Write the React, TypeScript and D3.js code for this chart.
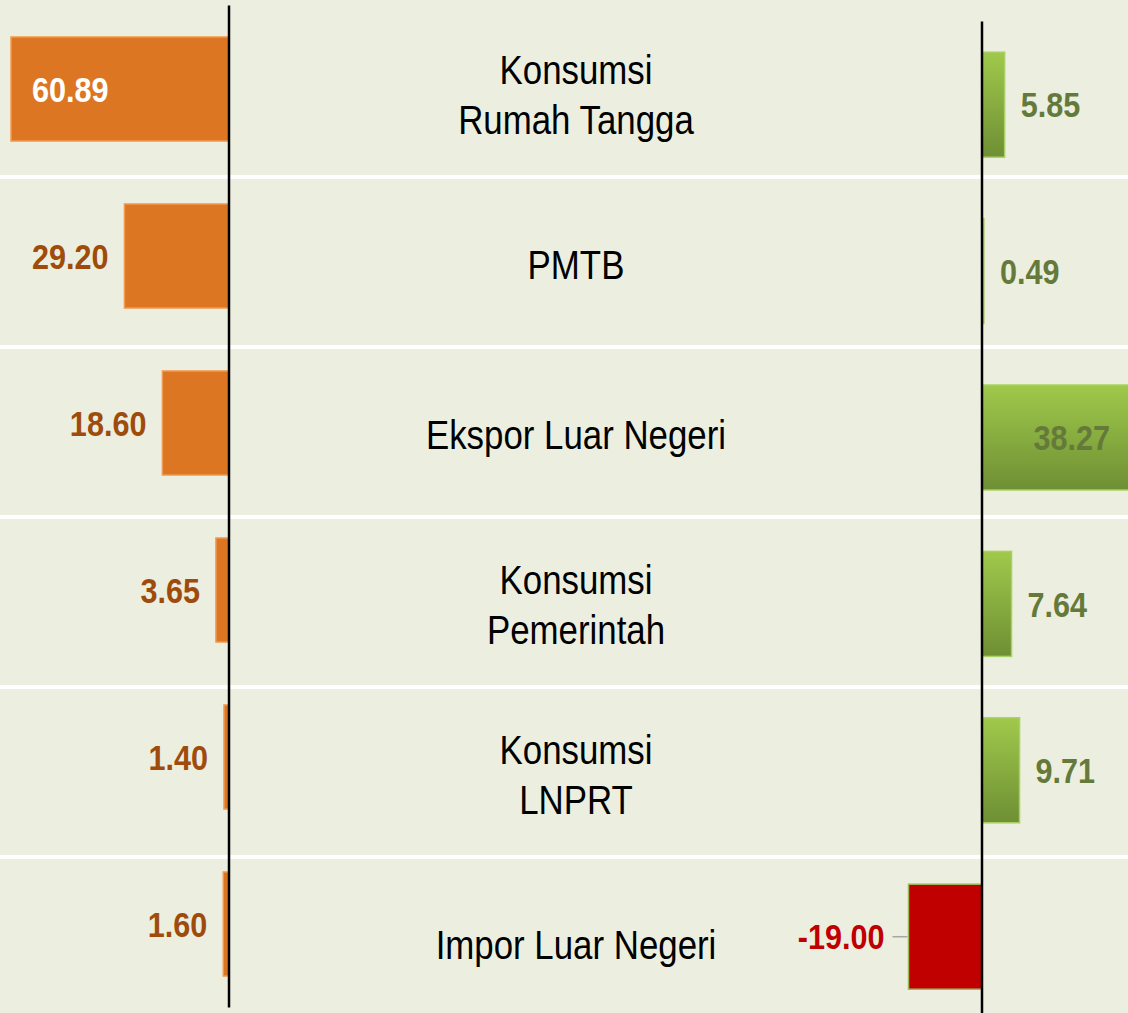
import React from "react";
import * as d3 from "d3";

const categories: string[][] = [
  ["Konsumsi", "Rumah Tangga"],
  ["PMTB"],
  ["Ekspor Luar Negeri"],
  ["Konsumsi", "Pemerintah"],
  ["Konsumsi", "LNPRT"],
  ["Impor Luar Negeri"],
];
const keys = ["rt", "pmtb", "ekspor", "pem", "lnprt", "impor"];
const leftValues = [60.89, 29.2, 18.6, 3.65, 1.4, 1.6];
const rightValues = [5.85, 0.49, 38.27, 7.64, 9.71, -19.0];

const W = 1128;
const H = 1013;
const FONT = "'Liberation Sans', Arial, sans-serif";
const NARROW = 0.85;

const locale = d3.formatLocale({
  decimal: ".",
  thousands: ",",
  grouping: [3],
  currency: ["", ""],
  minus: "-",
});
const fmt = locale.format(".2f");

function NText(props: {
  x: number;
  y: number;
  anchor: "start" | "middle" | "end";
  size: number;
  weight?: string;
  fill: string;
  children: React.ReactNode;
}) {
  return (
    <text
      transform={`translate(${props.x},${props.y}) scale(${NARROW},1)`}
      dy="0.35em"
      textAnchor={props.anchor}
      fontSize={props.size}
      fontWeight={props.weight || "normal"}
      fill={props.fill}
    >
      {props.children}
    </text>
  );
}

export default function App() {
  const leftX0 = 229;
  const rightX0 = 982;

  const xLeft = d3.scaleLinear().domain([0, 60.89]).range([leftX0, 11]);
  const xRight = d3.scaleLinear().domain([0, 19]).range([rightX0, rightX0 + 73.5]);

  const yRow = d3.scaleBand<string>().domain(keys).range([7, 7 + 170 * 6]).padding(0);
  const yLeft = d3
    .scaleBand<string>()
    .domain(keys)
    .range([5.5, 5.5 + 167 * 6])
    .paddingInner(0.377)
    .paddingOuter(0.1885);
  const yRight = d3
    .scaleBand<string>()
    .domain(keys)
    .range([21.5, 21.5 + 166.4 * 6])
    .paddingInner(0.369)
    .paddingOuter(0.1845);

  return (
    <svg
      width={W}
      height={H}
      style={{ position: "absolute", left: 0, top: 0, display: "block" }}
      fontFamily={FONT}
    >
      <defs>
        <linearGradient id="greenGrad" x1="0" y1="0" x2="0" y2="1">
          <stop offset="0" stopColor="#A0C94B" />
          <stop offset="1" stopColor="#6E8F34" />
        </linearGradient>
      </defs>
      <rect x={0} y={0} width={W} height={H} fill="#ECEFE0" />

      {/* row separators */}
      {keys.slice(1).map((k) => (
        <rect key={"sep" + k} x={0} y={(yRow(k) as number) - 2} width={W} height={4} fill="#FFFFFF" />
      ))}

      {/* left bars */}
      {keys.map((k, i) => {
        const v = leftValues[i];
        const y = yLeft(k) as number;
        const bw = yLeft.bandwidth();
        const x = xLeft(v);
        const inside = i === 0;
        return (
          <g key={"l" + k}>
            <rect
              x={x}
              y={y}
              width={leftX0 - x}
              height={bw}
              fill="#DC7622"
              stroke="#F29A4F"
              strokeWidth={1.5}
            />
            <NText
              x={inside ? x + 21 : x - 16}
              y={y + bw / 2}
              anchor={inside ? "start" : "end"}
              weight="bold"
              size={36}
              fill={inside ? "#FFFFFF" : "#9E4B0B"}
            >
              {fmt(v)}
            </NText>
          </g>
        );
      })}

      {/* right bars */}
      {keys.map((k, i) => {
        const v = rightValues[i];
        const y = yRight(k) as number;
        const bw = yRight.bandwidth();
        const cy = y + bw / 2;
        if (v < 0) {
          const x = rightX0 - (xRight(-v) - rightX0);
          return (
            <g key={"r" + k}>
              <rect
                x={x}
                y={y}
                width={rightX0 - x}
                height={bw}
                fill="#C00000"
                stroke="#9BBB59"
                strokeWidth={1.5}
              />
              <line x1={x - 16} x2={x - 1} y1={cy} y2={cy} stroke="#A6A6A6" strokeWidth={1.5} />
              <NText x={x - 24} y={cy} anchor="end" weight="bold" size={36} fill="#C00000">
                {fmt(v)}
              </NText>
            </g>
          );
        }
        const x2 = xRight(v);
        const inside = x2 > W;
        return (
          <g key={"r" + k}>
            <rect
              x={rightX0}
              y={y}
              width={x2 - rightX0}
              height={bw}
              fill="url(#greenGrad)"
              stroke="#A9D062"
              strokeWidth={1.5}
            />
            <NText
              x={inside ? W - 18 : x2 + 16}
              y={cy}
              anchor={inside ? "end" : "start"}
              weight="bold"
              size={36}
              fill="#657A3A"
            >
              {fmt(v)}
            </NText>
          </g>
        );
      })}

      {/* axes */}
      <line x1={leftX0} x2={leftX0} y1={yLeft.range()[0]} y2={yLeft.range()[1]} stroke="#000" strokeWidth={2.5} />
      <line x1={rightX0} x2={rightX0} y1={yRight.range()[0]} y2={H} stroke="#000" strokeWidth={2.5} />

      {/* category labels */}
      {keys.map((k, i) => {
        const lines = categories[i];
        const cy = (yRow(k) as number) + yRow.bandwidth() / 2 + 3;
        const lh = 50;
        const start = cy - ((lines.length - 1) * lh) / 2;
        return (
          <g key={"c" + k}>
            {lines.map((ln, j) => (
              <NText key={j} x={576} y={start + j * lh} anchor="middle" size={41} fill="#000">
                {ln}
              </NText>
            ))}
          </g>
        );
      })}
    </svg>
  );
}
